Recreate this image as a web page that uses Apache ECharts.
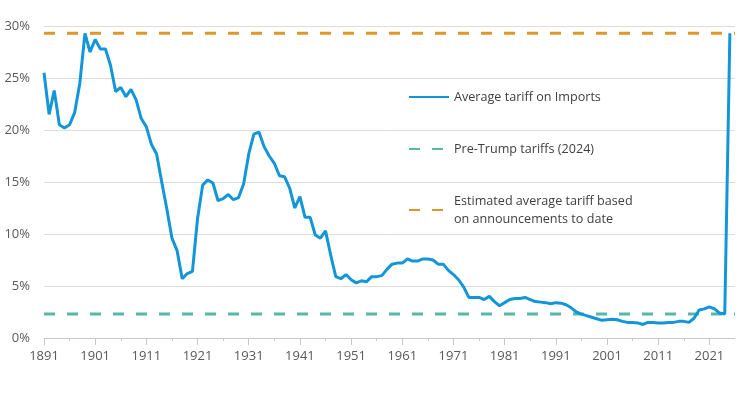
<!DOCTYPE html>
<html>
<head>
<meta charset="utf-8">
<script src="https://cdn.jsdelivr.net/npm/echarts@6/dist/echarts.min.js"></script>
<style>
html,body{margin:0;padding:0;background:#fff;}
#chart{width:740px;height:393px;}
</style>
</head>
<body>
<div id="chart"></div>
<script>
const firstYear = 1891;
const lastYear = 2025;
const years = [];
for (let y = firstYear; y <= lastYear; y++) years.push(y);

const averageTariff = [
  25.5, 21.5, 23.8, 20.5, 20.2, 20.5, 21.7, 24.5, 29.3, 27.5,
  28.7, 27.8, 27.8, 26.2, 23.7, 24.1, 23.2, 23.9, 22.9, 21.1,
  20.3, 18.6, 17.7, 15.0, 12.4, 9.6, 8.4, 5.7, 6.2, 6.4,
  11.5, 14.7, 15.2, 14.9, 13.2, 13.4, 13.8, 13.3, 13.5, 14.8,
  17.7, 19.6, 19.8, 18.4, 17.5, 16.8, 15.6, 15.5, 14.4, 12.5,
  13.6, 11.6, 11.6, 9.9, 9.6, 10.3, 8.0, 5.9, 5.7, 6.1,
  5.6, 5.3, 5.5, 5.4, 5.9, 5.9, 6.0, 6.6, 7.1, 7.2,
  7.2, 7.6, 7.4, 7.4, 7.6, 7.6, 7.5, 7.1, 7.1, 6.5,
  6.1, 5.6, 4.9, 3.9, 3.9, 3.9, 3.7, 4.0, 3.5, 3.1,
  3.4, 3.7, 3.8, 3.8, 3.9, 3.7, 3.5, 3.45, 3.4, 3.3,
  3.4, 3.35, 3.2, 2.9, 2.5, 2.3, 2.15, 2.0, 1.85, 1.7,
  1.75, 1.8, 1.75, 1.6, 1.5, 1.5, 1.45, 1.3, 1.5, 1.5,
  1.45, 1.45, 1.5, 1.5, 1.6, 1.6, 1.5, 1.9, 2.7, 2.8,
  3.0, 2.8, 2.4, 2.3, 29.3
];
const preTrumpTariff = 2.3;
const estimatedTariff = 29.3;

const xLabelYears = [1891, 1901, 1911, 1921, 1931, 1941, 1951, 1961, 1971, 1981, 1991, 2001, 2011, 2021];
const xMinorYears = [1896, 1906, 1916, 1926, 1936, 1946, 1956, 1966, 1976, 1986, 1996, 2006, 2016];

const seriesNames = [
  'Average tariff on Imports',
  'Pre-Trump tariffs (2024)',
  'Estimated average tariff based\non announcements to date'
];

const axisMin = 1891, axisMax = 2026;

const chart = echarts.init(document.getElementById('chart'), null, {renderer: 'canvas'});
const font = '"Open Sans", "Noto Sans", sans-serif';

chart.setOption({
  animation: false,
  backgroundColor: '#ffffff',
  textStyle: {fontFamily: font},
  grid: {left: 44, right: 5, top: 26, bottom: 55, containLabel: false},
  legend: {
    orient: 'vertical',
    left: 403,
    top: 83,
    padding: 5,
    itemWidth: 40,
    itemHeight: 14,
    itemGap: 34,
    itemStyle: {opacity: 0},
    textStyle: {fontFamily: font, fontSize: 12.6, color: '#404040', lineHeight: 18},
    data: seriesNames
  },
  xAxis: [{
    type: 'value',
    min: axisMin,
    max: axisMax,
    position: 'bottom',
    axisLine: {show: true, lineStyle: {color: '#c8c8c8', width: 1}},
    axisTick: {show: true, customValues: xLabelYears, length: 7, lineStyle: {color: '#c8c8c8'}},
    axisLabel: {customValues: xLabelYears, formatter: v => String(v), color: '#595959', fontSize: 13, fontFamily: font, margin: 12},
    splitLine: {show: false}
  }, {
    type: 'value',
    min: axisMin,
    max: axisMax,
    position: 'bottom',
    offset: 0,
    axisLine: {show: false},
    axisTick: {show: true, customValues: xMinorYears, length: 3, lineStyle: {color: '#c8c8c8'}},
    axisLabel: {show: false},
    splitLine: {show: false}
  }],
  yAxis: {
    type: 'value',
    min: 0,
    max: 30,
    interval: 5,
    axisLine: {show: false},
    axisTick: {show: false},
    axisLabel: {formatter: '{value}%', color: '#595959', fontSize: 13, fontFamily: font, margin: 14},
    splitLine: {show: true, lineStyle: {color: '#dcdcdc', width: 1}}
  },
  series: [{
    name: seriesNames[0],
    type: 'line',
    xAxisIndex: 0,
    symbol: 'none',
    z: 3,
    lineStyle: {color: '#1296d9', width: 3},
    itemStyle: {color: '#1296d9'},
    data: years.map((y, i) => [y, averageTariff[i]])
  }, {
    name: seriesNames[1],
    type: 'line',
    xAxisIndex: 0,
    symbol: 'none',
    z: 2,
    lineStyle: {color: '#55b8a8', width: 3, type: [11, 12]},
    itemStyle: {color: '#55b8a8'},
    data: [[axisMin, preTrumpTariff], [axisMax, preTrumpTariff]]
  }, {
    name: seriesNames[2],
    type: 'line',
    xAxisIndex: 0,
    symbol: 'none',
    z: 2,
    lineStyle: {color: '#e0962a', width: 3, type: [11, 12]},
    itemStyle: {color: '#e0962a'},
    data: [[axisMin, estimatedTariff], [axisMax, estimatedTariff]]
  }]
});
</script>
</body>
</html>
